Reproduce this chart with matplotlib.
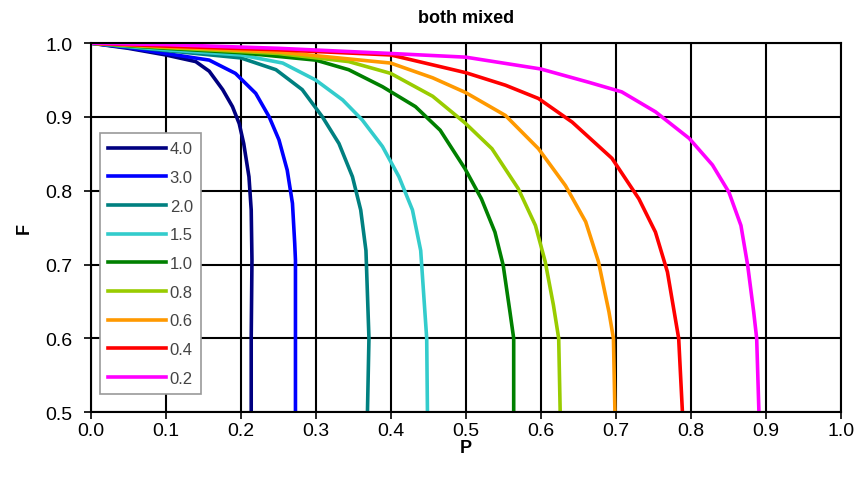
import numpy as np
import matplotlib.pyplot as plt

plt.rcParams['font.family'] = ['Liberation Sans', 'DejaVu Sans']

# curve labels and colours
labels = ['4.0', '3.0', '2.0', '1.5', '1.0', '0.8', '0.6', '0.4', '0.2']
colors = ['#000080', '#0000ff', '#008080', '#33cccc', '#008000',
          '#99cc00', '#ff9900', '#ff0000', '#ff00ff']

# P, F values
p_40 = [0, 0.05, 0.10, 0.14, 0.158, 0.176, 0.189, 0.198, 0.204, 0.211, 0.214, 0.215, 0.214, 0.214]
f_40 = [1.0, 0.993, 0.984, 0.975, 0.962, 0.937, 0.914, 0.891, 0.864, 0.819, 0.774, 0.706, 0.60, 0.5]

p_30 = [0, 0.05, 0.10, 0.158, 0.193, 0.22, 0.238, 0.251, 0.262, 0.269, 0.272, 0.273, 0.273, 0.273]
f_30 = [1.0, 0.994, 0.986, 0.977, 0.959, 0.932, 0.90, 0.869, 0.828, 0.783, 0.729, 0.706, 0.60, 0.5]

p_20 = [0, 0.10, 0.20, 0.247, 0.282, 0.309, 0.331, 0.349, 0.36, 0.367, 0.371, 0.369]
f_20 = [1.0, 0.99, 0.98, 0.964, 0.937, 0.90, 0.864, 0.819, 0.774, 0.719, 0.60, 0.5]

p_15 = [0, 0.10, 0.20, 0.256, 0.30, 0.336, 0.362, 0.389, 0.411, 0.429, 0.44, 0.448, 0.449]
f_15 = [1.0, 0.991, 0.984, 0.973, 0.95, 0.923, 0.896, 0.86, 0.819, 0.774, 0.719, 0.60, 0.5]

p_10 = [0, 0.10, 0.20, 0.30, 0.344, 0.389, 0.433, 0.466, 0.499, 0.521, 0.539, 0.55, 0.559, 0.564, 0.564]
f_10 = [1.0, 0.993, 0.987, 0.977, 0.964, 0.941, 0.914, 0.882, 0.83, 0.789, 0.744, 0.699, 0.636, 0.60, 0.5]

p_08 = [0, 0.10, 0.25, 0.344, 0.40, 0.456, 0.499, 0.535, 0.57, 0.593, 0.606, 0.617, 0.624, 0.626]
f_08 = [1.0, 0.994, 0.986, 0.975, 0.959, 0.928, 0.892, 0.857, 0.803, 0.753, 0.704, 0.645, 0.60, 0.5]

p_06 = [0, 0.10, 0.25, 0.40, 0.456, 0.50, 0.553, 0.597, 0.633, 0.66, 0.677, 0.691, 0.697, 0.699]
f_06 = [1.0, 0.995, 0.988, 0.973, 0.953, 0.933, 0.902, 0.857, 0.807, 0.758, 0.704, 0.636, 0.60, 0.5]

p_04 = [0, 0.10, 0.25, 0.40, 0.50, 0.553, 0.597, 0.642, 0.695, 0.731, 0.753, 0.769, 0.778, 0.784, 0.789]
f_04 = [1.0, 0.996, 0.991, 0.984, 0.96, 0.943, 0.925, 0.893, 0.844, 0.789, 0.744, 0.69, 0.636, 0.60, 0.5]

p_02 = [0, 0.10, 0.25, 0.40, 0.50, 0.60, 0.664, 0.708, 0.753, 0.798, 0.829, 0.851, 0.867, 0.876, 0.884, 0.888, 0.891]
f_02 = [1.0, 0.998, 0.993, 0.986, 0.981, 0.965, 0.947, 0.934, 0.907, 0.871, 0.835, 0.798, 0.753, 0.699, 0.636, 0.60, 0.5]

curves = [(p_40, f_40), (p_30, f_30), (p_20, f_20), (p_15, f_15), (p_10, f_10),
          (p_08, f_08), (p_06, f_06), (p_04, f_04), (p_02, f_02)]

fig = plt.figure(figsize=(8.64, 4.85), dpi=100)
ax = fig.add_axes([0.105, 0.148, 0.868, 0.761])

for (p, f), lab, c in zip(curves, labels, colors):
    ax.plot(p, f, color=c, lw=2.6, label=lab, solid_joinstyle='round')

ax.set_xlim(0, 1.0)
ax.set_ylim(0.5, 1.0)
ax.set_xticks(np.arange(0, 1.01, 0.1))
ax.set_yticks(np.arange(0.5, 1.01, 0.1))
ax.set_xticklabels(['%.1f' % v for v in np.arange(0, 1.01, 0.1)])
ax.set_yticklabels(['%.1f' % v for v in np.arange(0.5, 1.01, 0.1)])
ax.grid(True, color='black', lw=1.5)
ax.set_axisbelow(True)
for s in ax.spines.values():
    s.set_linewidth(1.5)
ax.tick_params(direction='out', length=5, width=1.2, labelsize=14, colors='black')
ax.tick_params(axis='x', pad=2)
ax.tick_params(axis='y', pad=8)

ax.set_title('both mixed', fontsize=13, fontweight='bold', pad=15)
ax.set_xlabel('P', fontsize=13, fontweight='bold', labelpad=0)
ax.set_ylabel('F', fontsize=13, fontweight='bold', labelpad=9)

leg = ax.legend(loc='lower left', bbox_to_anchor=(0.012, 0.049), borderaxespad=0,
                fontsize=12, handlelength=3.5, handletextpad=0.2, labelspacing=0.82,
                borderpad=0.5, fancybox=False, framealpha=1)
leg.get_frame().set_edgecolor('#999999')
leg.get_frame().set_linewidth(1.2)
for t in leg.get_texts():
    t.set_color('#444444')

fig.savefig('out.png', dpi=100)
